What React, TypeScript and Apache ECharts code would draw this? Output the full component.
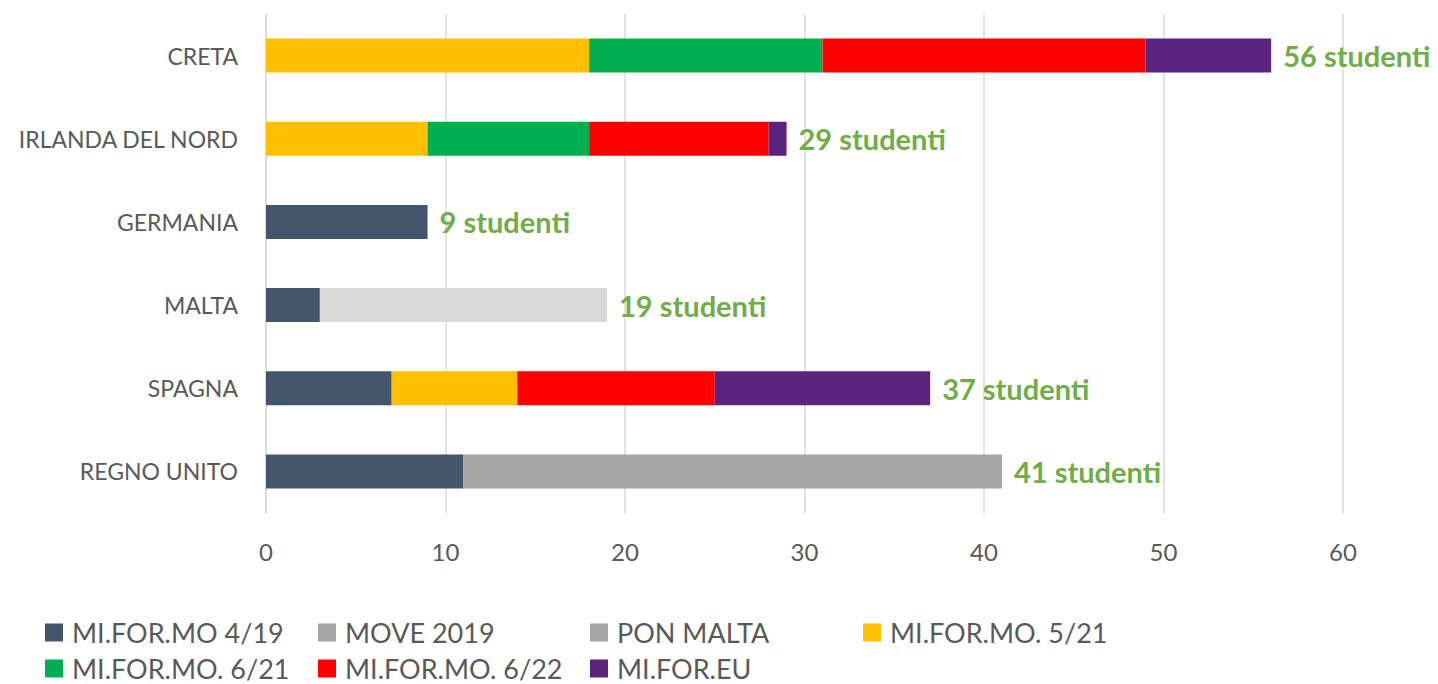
import React, { useEffect, useRef } from "react";
import * as echarts from "echarts";

const CATEGORIES = ["REGNO UNITO", "SPAGNA", "MALTA", "GERMANIA", "IRLANDA DEL NORD", "CRETA"];
const SERIES_NAMES = [
  "MI.FOR.MO 4/19",
  "MOVE 2019",
  "PON MALTA",
  "MI.FOR.MO. 5/21",
  "MI.FOR.MO. 6/21",
  "MI.FOR.MO. 6/22",
  "MI.FOR.EU",
];
const MIFORMO_4_19 = [11, 7, 3, 9, 0, 0];
const MOVE_2019 = [30, 0, 0, 0, 0, 0];
const PON_MALTA = [0, 0, 16, 0, 0, 0];
const MIFORMO_5_21 = [0, 7, 0, 0, 9, 18];
const MIFORMO_6_21 = [0, 0, 0, 0, 9, 13];
const MIFORMO_6_22 = [0, 11, 0, 0, 10, 18];
const MIFOREU = [0, 12, 0, 0, 1, 7];
const X_TICKS = [0, 10, 20, 30, 40, 50, 60];

const COLORS = ["#44546A", "#A5A5A5", "#A5A5A5", "#FFC000", "#00B050", "#FF0000", "#59237E"];
const PON_MALTA_BAR_COLOR = "#D9D9D9";
const LEGEND_POS = [
  [45, 619],
  [318, 619],
  [590, 619],
  [863, 619],
  [45, 655],
  [318, 655],
  [590, 655],
];

export default function App() {
  const ref = useRef<HTMLDivElement>(null);
  useEffect(() => {
    if (!ref.current) return;
    const chart = echarts.init(ref.current, undefined, { renderer: "svg" });
    const values = [MIFORMO_4_19, MOVE_2019, PON_MALTA, MIFORMO_5_21, MIFORMO_6_21, MIFORMO_6_22, MIFOREU];
    const totals = CATEGORIES.map((_, i) => values.reduce((s, arr) => s + arr[i], 0));
    const font = "Lato, 'Open Sans', sans-serif";
    const series: any[] = SERIES_NAMES.map((name, si) => ({
      name,
      type: "bar",
      stack: "total",
      barWidth: 34,
      itemStyle: { color: COLORS[si] },
      data: values[si].map((v) =>
        name === "PON MALTA" && v > 0 ? { value: v, itemStyle: { color: PON_MALTA_BAR_COLOR } } : v
      ),
    }));
    series.push({
      name: "Totale",
      type: "bar",
      barWidth: 34,
      barGap: "-100%",
      z: 1,
      itemStyle: { color: "rgba(0,0,0,0)" },
      label: {
        show: true,
        position: "right",
        distance: 12,
        formatter: (p: any) => `${p.value} studenti`,
        color: "#70AD47",
        fontWeight: "bold",
        fontSize: 29,
        fontFamily: font,
      },
      data: totals,
    });
    const legends = SERIES_NAMES.map((name, i) => ({
      data: [name],
      left: LEGEND_POS[i][0],
      top: LEGEND_POS[i][1],
      icon: "rect",
      itemWidth: 18,
      itemHeight: 18,
      padding: 0,
      selectedMode: false,
      textStyle: {
        color: "#595959",
        fontSize: 27,
        fontFamily: font,
        padding: [0, 0, 0, 4],
      },
    }));
    chart.setOption({
      animation: false,
      backgroundColor: "#FFFFFF",
      grid: { left: 266, right: 95, top: 14, bottom: 171, containLabel: false },
      legend: legends,
      xAxis: {
        type: "value",
        min: X_TICKS[0],
        max: X_TICKS[X_TICKS.length - 1],
        interval: 10,
        axisLine: { show: false },
        axisTick: { show: false },
        splitLine: { show: true, lineStyle: { color: "#D9D9D9", width: 1.5 } },
        axisLabel: { color: "#595959", fontSize: 24, fontFamily: font, margin: 26 },
      },
      yAxis: {
        type: "category",
        data: CATEGORIES,
        axisLine: { show: true, lineStyle: { color: "#D9D9D9", width: 1.5 } },
        axisTick: { show: false },
        axisLabel: { color: "#595959", fontSize: 23, fontFamily: font, margin: 28 },
      },
      series,
    });
    return () => chart.dispose();
  }, []);
  return (
    <div
      ref={ref}
      style={{ position: "fixed", left: 0, top: 0, width: 1438, height: 684, overflow: "hidden" }}
    />
  );
}
